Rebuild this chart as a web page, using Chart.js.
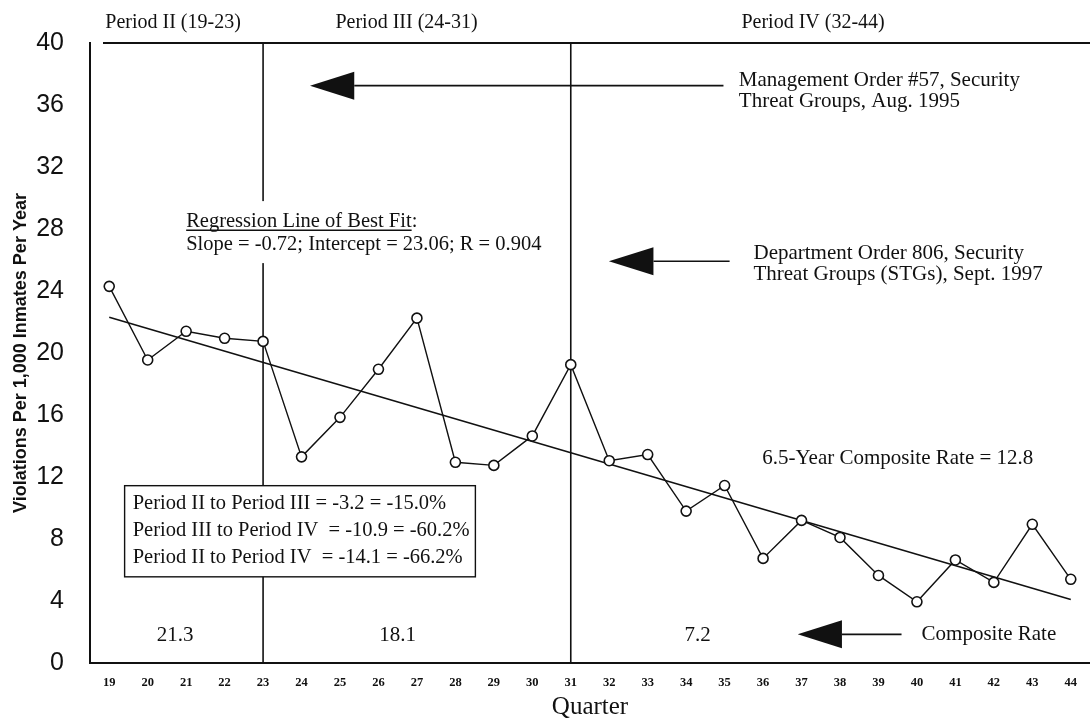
<!DOCTYPE html>
<html>
<head>
<meta charset="utf-8">
<script src="https://cdn.jsdelivr.net/npm/chart.js@4.4.1/dist/chart.umd.min.js"></script>
<style>
  html, body { margin: 0; padding: 0; background: #fff; overflow: hidden; }
  #wrap { width: 1090px; height: 723px; position: relative; }
  canvas { display: block; }
</style>
</head>
<body>
<div id="wrap"><canvas id="violationsChart"></canvas></div>
<script>
// quarters 19 to 44
const quarters = ['19', '20', '21', '22', '23', '24', '25', '26', '27', '28', '29', '30', '31',
                  '32', '33', '34', '35', '36', '37', '38', '39', '40', '41', '42', '43', '44'];
const violationRates = [24.3, 19.55, 21.4, 20.95, 20.75, 13.3, 15.85, 18.95, 22.25, 12.95, 12.75, 14.65, 19.25,
                        13.05, 13.45, 9.8, 11.45, 6.75, 9.2, 8.1, 5.65, 3.95, 6.65, 5.2, 8.95, 5.4];
// regression line of best fit: only the two end points
const regressionLine = [22.3, null, null, null, null, null, null, null, null, null, null, null, null,
                        null, null, null, null, null, null, null, null, null, null, null, null, 4.1];
const yTicks = [0, 4, 8, 12, 16, 20, 24, 28, 32, 36, 40];
const periodBreaks = ['23', '31'];
const periodTitles = ['Period II (19-23)', 'Period III (24-31)', 'Period IV (32-44)'];
const compositeRates = ['21.3', '18.1', '7.2'];
const changeNotes = [
    'Period II to Period III = -3.2 = -15.0%',
    'Period III to Period IV  = -10.9 = -60.2%',
    'Period II to Period IV  = -14.1 = -66.2%'
];

const SERIF = '"Liberation Serif", "Times New Roman", serif';
const INK = '#111';

// arrow pointing left, tip at xTip
function drawArrow(ctx, xTip, xBase, xEnd, y) {
    ctx.beginPath();
    ctx.moveTo(xBase, y);
    ctx.lineTo(xEnd, y);
    ctx.lineWidth = 1.6;
    ctx.strokeStyle = INK;
    ctx.stroke();
    ctx.beginPath();
    ctx.moveTo(xTip, y);
    ctx.lineTo(xBase, y - 14);
    ctx.lineTo(xBase, y + 14);
    ctx.closePath();
    ctx.fillStyle = INK;
    ctx.fill();
}

const annotations = {
    id: 'annotations',
    beforeDatasetsDraw(chart) {
        const { ctx, chartArea, scales } = chart;
        const xs = scales.x;
        ctx.save();
        ctx.strokeStyle = INK;
        ctx.lineWidth = 1.6;
        // period dividers
        periodBreaks.forEach(q => {
            const x = xs.getPixelForValue(quarters.indexOf(q));
            ctx.beginPath();
            ctx.moveTo(x, chartArea.top);
            ctx.lineTo(x, chartArea.bottom);
            ctx.stroke();
        });
        // top frame line
        ctx.lineWidth = 2;
        ctx.beginPath();
        ctx.moveTo(chartArea.left + 13, chartArea.top);
        ctx.lineTo(chartArea.right, chartArea.top);
        ctx.stroke();
        ctx.restore();
    },
    afterDatasetsDraw(chart) {
        const { ctx, scales } = chart;
        const px = q => scales.x.getPixelForValue(q - 19);
        const py = v => scales.y.getPixelForValue(v);
        ctx.save();
        ctx.fillStyle = INK;
        ctx.textBaseline = 'middle';

        // period titles above the plot
        ctx.font = '20px ' + SERIF;
        ctx.textAlign = 'center';
        [20.66, 26.73, 37.3].forEach((q, i) => ctx.fillText(periodTitles[i], px(q), py(41.3)));

        // management order arrow
        drawArrow(ctx, px(24.22), px(25.37), px(34.97), py(37.25));
        ctx.font = '21px ' + SERIF;
        ctx.textAlign = 'left';
        ctx.fillText('Management Order #57, Security', px(35.37), py(37.6));
        ctx.fillText('Threat Groups, Aug. 1995', px(35.37), py(36.2));

        // department order arrow
        drawArrow(ctx, px(31.99), px(33.15), px(35.13), py(25.92));
        ctx.fillText('Department Order 806, Security', px(35.75), py(26.45));
        ctx.fillText('Threat Groups (STGs), Sept. 1997', px(35.75), py(25.05));

        ctx.fillText('6.5-Year Composite Rate = 12.8', px(35.98), py(13.2));

        // regression caption, white behind it
        ctx.font = '20.5px ' + SERIF;
        const rx = px(21.0);
        const capTitle = 'Regression Line of Best Fit';
        const capLine = 'Slope = -0.72; Intercept = 23.06; R = 0.904';
        const capW = ctx.measureText(capLine).width;
        ctx.fillStyle = '#fff';
        ctx.fillRect(rx - 3, py(29.8), capW + 6, py(25.8) - py(29.8));
        ctx.fillStyle = INK;
        ctx.fillText(capTitle + ':', rx, py(28.5));
        const tW = ctx.measureText(capTitle).width;
        ctx.lineWidth = 1.3;
        ctx.strokeStyle = INK;
        ctx.beginPath();
        ctx.moveTo(rx, py(28.5) + 9);
        ctx.lineTo(rx + tW, py(28.5) + 9);
        ctx.stroke();
        ctx.fillText(capLine, rx, py(27.0));

        // change summary box
        const bx0 = px(19.4), bx1 = px(28.52), by0 = py(11.44), by1 = py(5.56);
        ctx.fillStyle = '#fff';
        ctx.fillRect(bx0, by0, bx1 - bx0, by1 - by0);
        ctx.lineWidth = 1.4;
        ctx.strokeRect(bx0, by0, bx1 - bx0, by1 - by0);
        ctx.fillStyle = INK;
        [10.3, 8.55, 6.8].forEach((v, i) => ctx.fillText(changeNotes[i], px(19.61), py(v)));

        // composite rates per period
        ctx.font = '21px ' + SERIF;
        ctx.textAlign = 'center';
        [20.71, 26.5, 34.3].forEach((q, i) => ctx.fillText(compositeRates[i], px(q), py(1.8)));
        drawArrow(ctx, px(36.9), px(38.05), px(39.6), py(1.85));
        ctx.textAlign = 'left';
        ctx.fillText('Composite Rate', px(40.12), py(1.85));

        ctx.restore();
    }
};

new Chart(document.getElementById('violationsChart'), {
    type: 'line',
    data: {
        labels: quarters,
        datasets: [{
            label: 'Violations',
            data: violationRates,
            borderColor: INK,
            borderWidth: 1.4,
            tension: 0,
            pointRadius: 5,
            pointBackgroundColor: '#fff',
            pointBorderColor: INK,
            pointBorderWidth: 1.6
        }, {
            label: 'Regression',
            data: regressionLine,
            spanGaps: true,
            borderColor: INK,
            borderWidth: 1.6,
            pointRadius: 0
        }]
    },
    options: {
        responsive: true,
        maintainAspectRatio: false,
        animation: false,
        layout: {
            autoPadding: false,
            padding: { top: 43, right: 0, bottom: 0, left: 0 }
        },
        plugins: {
            legend: { display: false },
            tooltip: { enabled: false }
        },
        scales: {
            x: {
                type: 'category',
                offset: true,
                grid: { display: false },
                border: { display: true, color: INK, width: 2 },
                ticks: {
                    color: INK,
                    autoSkip: false,
                    maxRotation: 0,
                    padding: 4,
                    font: { family: SERIF, size: 12.5, weight: 'bold' }
                },
                title: {
                    display: true,
                    text: 'Quarter',
                    color: INK,
                    padding: { top: 1, bottom: 1 },
                    font: { family: SERIF, size: 25 }
                },
                afterFit: s => {
                    s.height = 60;
                    s.paddingLeft = 0;
                    s.paddingRight = 0;
                }
            },
            y: {
                min: 0,
                max: 40,
                grid: { display: false },
                border: { display: true, color: INK, width: 2 },
                afterBuildTicks: s => { s.ticks = yTicks.map(v => ({ value: v })); },
                ticks: {
                    color: INK,
                    padding: 18,
                    font: { family: '"Liberation Sans Narrow", "Liberation Sans", sans-serif', size: 25 }
                },
                title: {
                    display: true,
                    text: 'Violations Per 1,000 Inmates Per Year',
                    color: INK,
                    padding: { top: 10, bottom: 10 },
                    font: { family: '"Liberation Sans", sans-serif', size: 18, weight: 'bold' }
                },
                afterFit: s => { s.width = 90; }
            }
        }
    },
    plugins: [annotations]
});
</script>
</body>
</html>
